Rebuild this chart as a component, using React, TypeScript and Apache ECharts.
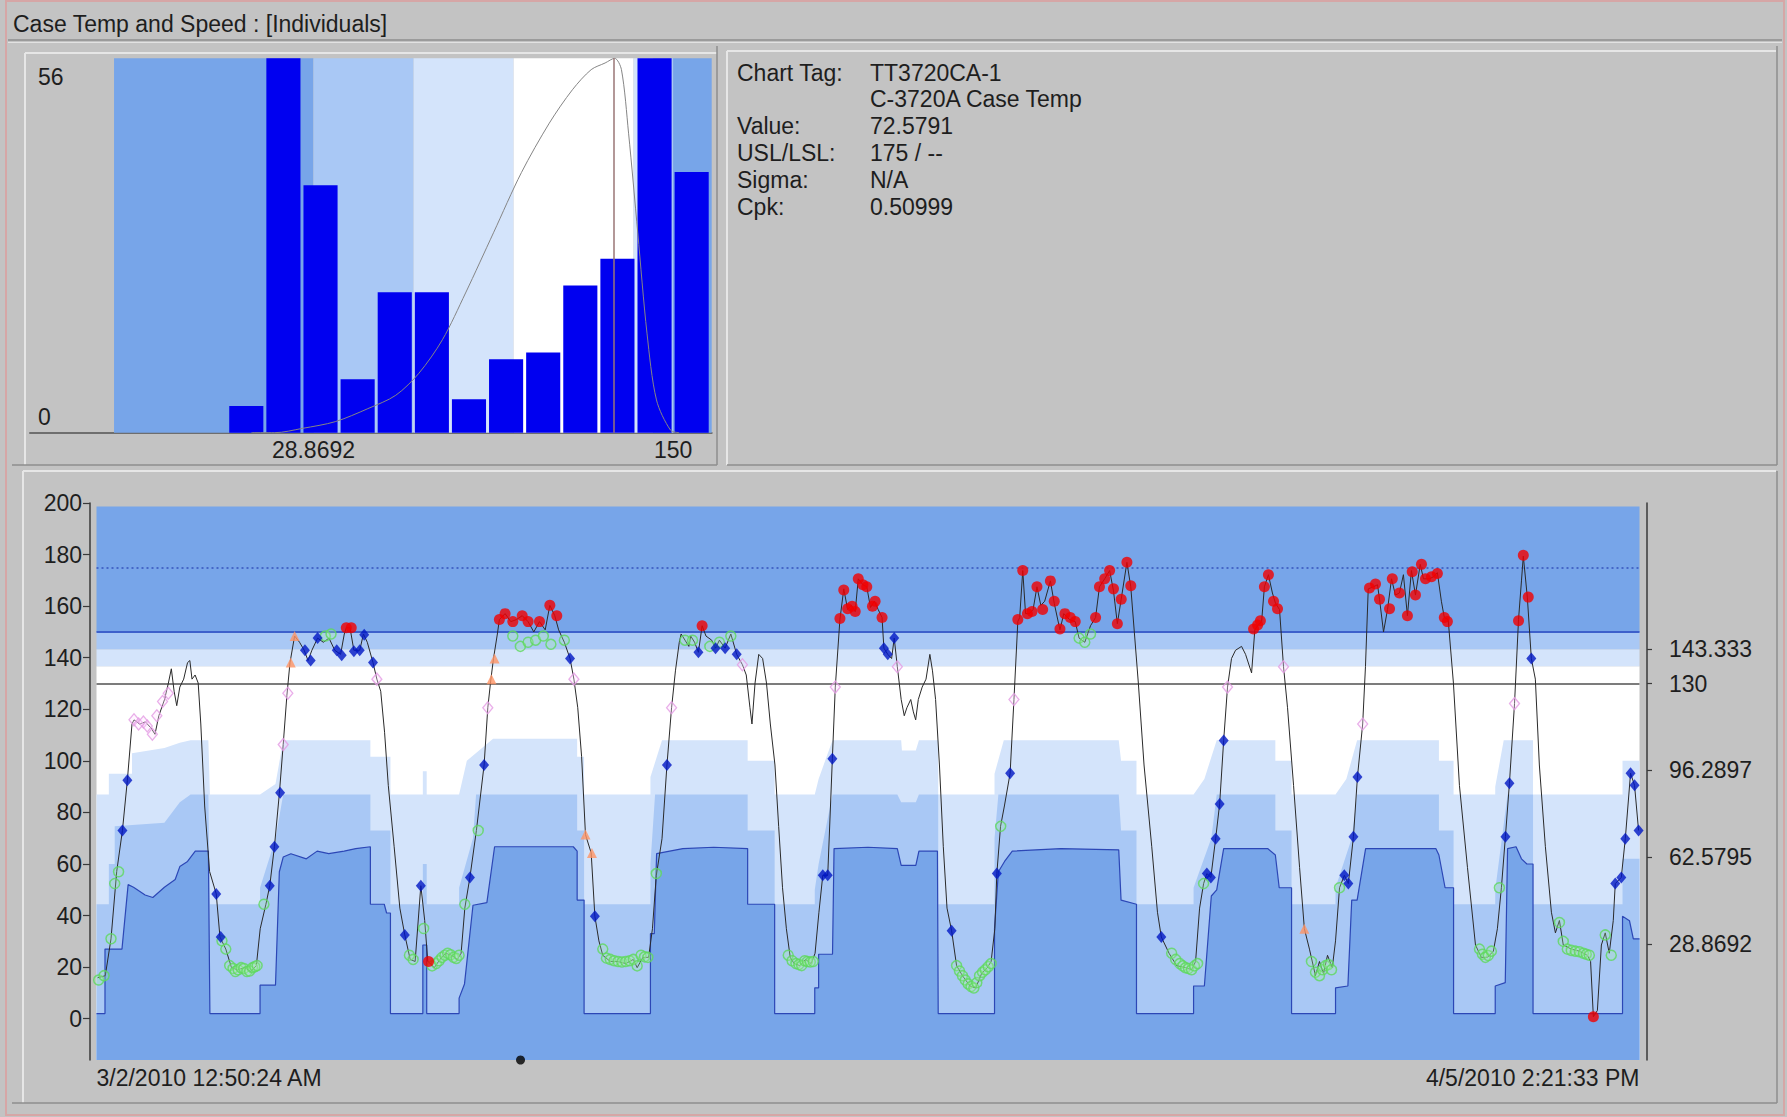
import React, { useEffect, useRef } from 'react';
import * as echarts from 'echarts';

const FONT = '"Liberation Sans", Arial, Helvetica, sans-serif';
const MED = '#77a5e9';
const LIGHT = '#a9c8f5';
const VLIGHT = '#d4e4fb';
const BG = '#c3c3c3';
const TXT = '#1e1e1e';

// ---------- Title / info ----------
const chartTitle = 'Case Temp and Speed : [Individuals]';
const infoLabels = ['Chart Tag:', '', 'Value:', 'USL/LSL:', 'Sigma:', 'Cpk:'];
const infoValues = ['TT3720CA-1', 'C-3720A Case Temp', '72.5791', '175 / --', 'N/A', '0.50999'];

// ---------- Histogram ----------
const histBinStart = 0;
const histBinWidth = 12.5;
const histCounts = [4, 56, 37, 8, 21, 21, 5, 11, 12, 22, 26, 56, 39];
const histYMax = 56;
const histYTicks = [0, 56];
const histXTicks = [28.8692, 150];
const histXTickLabels = ['28.8692', '150'];
const histCenter = 130;
const histCurve: [number, number][] = [
  [8, 0], [15.8, 0], [25.2, 0.65], [36.2, 1.65], [47.2, 3.6], [56.6, 5.6], [64.4, 8.9], [72.3, 13.9],
  [80.1, 20.9], [89.5, 29.9], [98.9, 38.9], [108.3, 46.3], [116.1, 51.3], [122.4, 54.3], [127.1, 55.3],
  [130.3, 56], [132.6, 54.3], [135, 44.8], [138.1, 29.9], [141.2, 14.9], [144.4, 4.9], [149.1, 0.4], [152, 0],
];

// ---------- Zones / limits ----------
const zoneLimits = [28.8692, 62.5795, 96.2897, 130, 136.667, 143.333, 150];
const uslValue = 175;
const upperLimit = 150;
const centerValue = 130;

// ---------- Main chart axes ----------
const yTicks = [0, 20, 40, 60, 80, 100, 120, 140, 160, 180, 200];
const rightTicks = [28.8692, 62.5795, 96.2897, 130, 143.333];
const rightTickLabels = ['28.8692', '62.5795', '96.2897', '130', '143.333'];
const dateLabels = ['3/2/2010 12:50:24 AM', '4/5/2010 2:21:33 PM'];
const cursorPoint: [number, number][] = [[274.8, -16]];

// ---------- Lower variable zones (x: position 0..1000 across the time span) ----------
const zone1: [number, number][] = [
  [0, 2], [5.5, 2], [5.5, 27], [16.5, 27], [20.5, 52], [24, 51], [31.5, 48], [36.5, 47], [44, 51], [51, 54], [54, 59], [59, 61], [64, 65], [72.5, 65], [73.5, 2],
  [106, 2], [106, 13], [116, 13], [118.5, 57], [121, 62.7], [126, 64], [136, 62], [143, 65], [150.5, 64], [160.5, 65], [168, 66], [177.5, 66.7], [177.5, 44.4], [186.5, 44.4], [188, 41], [190.5, 41], [190.5, 2],
  [211.5, 2], [211.5, 28.6], [214, 28.6], [214, 2], [235, 2], [235, 8], [238.5, 13.5], [244, 44], [253, 45], [258, 66.7], [309, 66.7], [311.5, 65], [311.5, 46], [316, 46], [316, 2],
  [359, 2], [359, 33], [361.5, 33], [363, 64], [380, 66], [400, 66.5], [422, 66], [422, 44.4], [439.5, 44.4], [439.5, 2],
  [465.5, 2], [465.5, 12], [468, 12], [468, 25], [477, 25], [478, 66], [500, 66.5], [519, 66], [521.5, 59.5], [531, 59.5], [533, 65], [545, 65], [545.5, 2],
  [582, 2], [582, 35], [584.5, 57], [588.5, 61], [593.5, 65], [625, 66], [662.5, 65.5], [664, 46], [674, 44.4], [674, 2],
  [711, 2], [711, 12.7], [718, 12.7], [722.5, 47.6], [726, 50], [730.5, 66], [759, 66], [764, 63.5], [766.5, 50.8], [774.5, 50.8], [774.5, 2],
  [803, 2], [803, 12], [811, 12.7], [813.5, 46], [817, 46], [822.5, 66], [868, 66], [870, 63.5], [874, 50.8], [879.5, 50.8], [879.5, 2],
  [906.5, 2], [906.5, 12.7], [913, 14], [914.5, 66], [920, 66.7], [923.5, 62], [927, 60], [931, 60], [931, 2],
  [989, 2], [989, 39.7], [993.5, 38], [996, 31], [1000, 31],
];
const zone2: [number, number][] = [
  [0, 44.4], [8, 44.4], [8, 60], [11.8, 60], [11.8, 74.6], [44, 76], [54, 84], [61, 87], [72.5, 87], [73.5, 44.4],
  [106, 44.4], [106, 50.8], [116, 69.8], [121, 87], [177.5, 87], [177.5, 73], [190.5, 73], [190.5, 44.4],
  [211.5, 44.4], [211.5, 60], [214, 60], [214, 44.4], [235, 44.4], [235, 50.8], [244, 70], [246, 87], [311.5, 87], [311.5, 73], [316, 73], [316, 44.4],
  [359, 44.4], [359, 60], [362, 87], [422, 87], [422, 73], [439.5, 73], [439.5, 44.4],
  [465.5, 44.4], [465.5, 50], [468, 60], [477, 87], [519, 87], [521.5, 84], [531, 84], [533, 87], [545.5, 87], [545.5, 44.4],
  [582, 44.4], [582, 70], [584.5, 87], [662.5, 87], [664, 73], [674, 73], [674, 44.4],
  [711, 44.4], [711, 50.8], [722.5, 70], [726, 87], [764, 87], [764, 73], [774.5, 73], [774.5, 44.4],
  [803, 44.4], [803, 50.8], [813.5, 70], [817, 87], [870, 87], [870, 73], [879.5, 73], [879.5, 44.4],
  [906.5, 44.4], [906.5, 50], [914.5, 87], [931, 87], [931, 44.4],
  [989, 44.4], [989, 62], [1000, 62],
];
const zone3: [number, number][] = [
  [0, 87], [8, 87], [8, 95], [23, 95], [23, 103], [44, 105], [54, 107], [61, 108], [72.5, 108], [73.5, 87],
  [106, 87], [116, 91], [121, 108], [177.5, 108], [177.5, 101.6], [190.5, 101.6], [190.5, 87],
  [211.5, 87], [211.5, 96], [214, 96], [214, 87], [235, 87], [240, 100], [257, 108.6], [311.5, 108.6], [311.5, 101.6], [316, 101.6], [316, 87],
  [359, 87], [359, 93.7], [366.5, 108], [422, 108], [422, 100], [439.5, 100], [439.5, 87],
  [465.5, 87], [468, 93], [477, 108], [521.5, 108], [522, 104], [531, 104], [533, 108], [545.5, 108], [545.5, 87],
  [582, 87], [582, 95], [588, 108], [662.5, 108], [664, 100], [674, 100], [674, 87],
  [711, 87], [718, 93], [726, 108], [764, 108], [764, 100], [774.5, 100], [774.5, 87],
  [803, 87], [810, 93], [817, 108], [870, 108], [870, 100], [879.5, 100], [879.5, 87],
  [906.5, 87], [906.5, 90], [912, 108], [931, 108], [931, 87],
  [989, 87], [989, 100], [1000, 100],
];

// ---------- Case temperature trace ----------
const caseTemp: [number, number][] = [
  [0.7, 15.9], [5.7, 16.7], [9.4, 31], [13.1, 57.1], [16.8, 73], [20, 92.5], [23, 114.3], [24.3, 115.9], [27.9, 114.3], [31.7, 115.1], [35.4, 112.7], [37.9, 110.3], [40.4, 117.5], [44.1, 123.8], [46.6, 130.2], [48.5, 135.7], [50.3, 127], [52, 121.4], [54, 128.6], [56.5, 131.7], [59, 138.1], [60.5, 138.9], [61.9, 131.7], [63.9, 133.3], [65.9, 130.2], [67.6, 114.3], [70.1, 82.5], [73.3, 57.1], [77.6, 48.4], [80, 31.7], [83.8, 27], [87.5, 19.8], [91.2, 19], [96.2, 19.8], [99.9, 18.3], [103.6, 20.6], [106.1, 34.9], [109.8, 44.4], [112.3, 51.6], [115.3, 66.7], [118.5, 87.3], [121, 106.3], [123.4, 125.4], [125.4, 138.1], [128.4, 148.4], [131.6, 146], [134.6, 142.9], [137.1, 138.9], [139.6, 142.9], [143.3, 147.6], [147, 146], [150.7, 147.6], [154.4, 142.9], [158.2, 141.3], [160.6, 149.2], [161.9, 151.6], [164.3, 151.6], [166.8, 142.9], [170.6, 142.9], [173, 149.2], [175.5, 146], [179.2, 138.1], [181.7, 131.7], [184.2, 127], [186.7, 111.1], [189.1, 90.5], [192.9, 66.7], [196.6, 42.9], [199.8, 32.5], [203.3, 23], [206.5, 22.2], [210.2, 51.6], [212.7, 38.1], [214.7, 22.2], [216.4, 21.4], [218.9, 19.8], [222.6, 23], [226.3, 25.4], [230.1, 24.6], [233.8, 23], [236.3, 25.4], [238.7, 42.9], [242, 54.8], [246.2, 73], [251.2, 98.4], [253.6, 120.6], [255.6, 131.7], [257.3, 139.7], [259.8, 149.2], [261.1, 154.8], [264.8, 157.1], [268.5, 154], [272.2, 154.8], [275.9, 156.3], [279.7, 154], [283.4, 150], [287.1, 154], [290.8, 150.8], [293.8, 160.3], [297, 156.3], [299.5, 150.8], [303.2, 146], [306.9, 139.7], [309.4, 131.7], [311.9, 120.6], [314.4, 101.6], [316.9, 71.4], [320.6, 64.3], [323, 39.7],
  [325.6, 30.2], [328.1, 24.6], [333, 22.2], [338, 22.2], [343, 21.4], [347.9, 23], [350.4, 19.8], [354.1, 23.8], [357.8, 23.8], [360.3, 34.9], [362.8, 55.6], [366.5, 69.8], [369.7, 98.4], [372.7, 120.6], [375.2, 134.9], [377.7, 146], [378.9, 149.2], [381.4, 146.8], [383.9, 144.4], [385.1, 148.4], [387.6, 146], [390.1, 142.1], [392.5, 152.4], [395, 148.4], [398.7, 146.8], [401.2, 143.7], [403.7, 146.8], [407.4, 143.7], [411.1, 149.2], [414.9, 141.3], [418.6, 137.3], [421.1, 133.3], [423.5, 120.6], [424.8, 114.3], [426.8, 130.2], [429.2, 141.3], [431.7, 139.7], [434.2, 130.2], [436.7, 114.3], [439.7, 98.4], [442.1, 74.6], [444.6, 50.8], [447.1, 34.9], [449.6, 23.8], [452.1, 21.4], [455.8, 20.6], [459.5, 23], [463.2, 21.4], [465.7, 25.4], [468.2, 41.3], [470.7, 55.6], [473.9, 55.6], [476.9, 100.8], [478.8, 128.6], [481.8, 154.8], [484.3, 166.7], [486.8, 158.7], [489.2, 160.3], [491.7, 157.9], [493.7, 170.6], [496.7, 168.3], [499.2, 167.5], [501.6, 159.5], [504.1, 161.9], [506.6, 158.7], [509.1, 155.6], [510.3, 143.7], [512.8, 141.3], [515.3, 139.7], [517, 147.6], [519, 136.5], [521.5, 123.8], [523.5, 117.5], [525.2, 120.6], [527.7, 123.8], [529.4, 119], [530.9, 115.9], [532.6, 123.8], [535.1, 128.6], [537.6, 131.7], [540.1, 141.3], [541.8, 134.9], [543.8, 123.8], [546.3, 98.4], [548.8, 66.7], [551.2, 42.9], [554.2, 34.1], [557.4, 20.6], [561.2, 16.7], [566.1, 12.7], [569.8, 11.9], [573.6, 17.5], [577.3, 19.8], [579.8, 22.2], [582.2, 34.9], [583.5, 56.3], [585.9, 74.6], [588.4, 82.5], [592.1, 95.2], [594.6, 123.8], [597.1, 154], [598.3, 155.6], [600.3, 173.8], [602.1, 157.1], [604.6, 157.1], [607, 158.7], [609.5, 167.5], [612, 160.3], [614.5, 161.9], [618.2, 169.8], [620.7, 161.1], [624.4, 150.8], [626.9, 157.1], [630.6, 154.8], [634.3, 154], [636.8, 147.6], [640.5, 146], [644.2, 152.4], [647.5, 155.6], [650, 167.5], [653.4, 170.6], [656.6, 173.8], [659.1, 165.9], [661.6, 153.2], [664.1, 162.7], [667.8, 177], [670.3, 167.5], [672.7, 149.2], [675.2, 130.2], [678.9, 98.4], [683.9, 66.7], [687.6, 41.3], [690.1, 31.7], [695.1, 25.4], [700, 20.6],
  [705.8, 19.8], [709.7, 19], [712.3, 22.2], [714.9, 42.9], [717.5, 52.4], [719.6, 56.3], [722.2, 54.8], [725.3, 69.8], [727.9, 83.3], [730.5, 107.9], [733, 128.6], [735.6, 139.7], [738.2, 142.9], [742.1, 144.4], [744.7, 141.3], [748.6, 134.1], [750.7, 150.8], [752.5, 152.4], [755.1, 154], [756.9, 167.5], [759.5, 172.2], [762.1, 165.1], [764.1, 161.1], [766.7, 158.7], [769.3, 136.5], [771.9, 120.6], [775.8, 90.5], [779.7, 58.7], [782.8, 34.9], [786.1, 27], [790, 16.7], [792.6, 22.2], [795.2, 17.5], [797.8, 24.6], [800.9, 19.8], [803, 30.2], [805.6, 50.8], [808.7, 55.6], [811.3, 52.4], [814.6, 70.6], [817.2, 93.7], [820.6, 114.3], [822.4, 136.5], [824.2, 166.7], [827.6, 167.5], [830.2, 168.3], [831.5, 162.7], [834.1, 150], [836.7, 158.7], [839.3, 170.6], [841.8, 164.3], [844.4, 165.1], [847, 172.2], [849.6, 156.3], [852.2, 173.8], [854.8, 164.3], [857.9, 176.2], [860, 170.6], [863.9, 170.6], [866.5, 171.4], [869, 173], [871.6, 161.9], [873.5, 155.6], [876, 154.8], [879.4, 130.2], [883.3, 90.5], [888.5, 58.7], [893.7, 28.6], [897.5, 23.8], [901.4, 23.8], [905.3, 26.2], [907.9, 34.9], [910.5, 50.8], [913.1, 70.6], [915.7, 91.3], [919, 122.2], [921.6, 154.8], [923.5, 169.8], [924.7, 179.4], [927.3, 163.5], [929.9, 139.7], [932.5, 131.7], [935.1, 98.4], [939, 66.7], [942.9, 41.3], [945.5, 33.3], [948.1, 38.1], [950.6, 28.6], [955.8, 27], [961, 26.2], [966.2, 24.6], [968.3, 22.2], [970.1, 0.8], [972.7, 3.2], [975.3, 28.6], [977.8, 33.3], [980.4, 25.4], [983, 38.1], [984.3, 52.4], [988.2, 54.8], [990.8, 69.8], [994.2, 95.2], [996.8, 90.5], [999.4, 73],
];

// ---------- Rule markers ----------
const redPoints: [number, number][] = [
  [161.9, 151.6], [165.1, 151.6], [215.2, 22.2], [261.1, 154.8], [264.8, 157.1], [269.8, 154], [275.9, 156.3], [279.7, 154], [287.1, 154], [293.8, 160.3], [298.3, 156.3], [392.5, 152.4],
  [481.8, 155.2], [484.3, 166.3], [486.8, 159], [489.7, 160], [491.7, 157.9], [493.7, 170.6], [496.7, 168.3], [499.2, 167.5], [502.9, 160], [504.6, 161.9], [509.1, 155.6],
  [597.1, 154.8], [600.3, 173.8], [603.3, 157.1], [606.3, 157.9], [609.5, 167.5], [613.2, 158.7], [618.2, 169.8], [620.7, 161.9], [624.4, 151.1], [627.6, 157.1], [631.1, 155.6], [634.3, 154],
  [647.5, 155.6], [650, 167.5], [653.4, 170.6], [656.6, 173.8], [659.1, 166.7], [661.6, 153.2], [664.1, 162.7], [667.8, 177], [670.3, 167.9],
  [749.9, 151.1], [752.5, 152.7], [754.3, 154.3], [756.9, 167.5], [759.5, 172.2], [762.8, 161.9], [765.4, 159],
  [825, 167], [828.9, 168.6], [831.5, 162.7], [838, 159], [839.8, 170.6], [844.4, 165.1], [849.6, 156.3], [852.7, 173.3], [854.8, 164.3], [858.7, 176.2], [861.3, 170.6], [865.2, 171.4], [869, 172.7], [873.5, 155.6], [875.5, 154],
  [921.6, 154.3], [924.7, 179.7], [927.9, 163.5], [970.1, 0.8],
];
const bluePoints: [number, number][] = [
  [16.8, 73], [20, 92.5], [77.6, 48.4], [80.5, 31.7], [112.3, 51.6], [115.3, 66.7], [119, 87.6], [135.1, 142.9], [138.8, 138.9], [143.3, 147.6], [155.7, 142.9], [158.9, 141], [166.8, 142.5], [170.6, 142.9], [173.5, 148.9], [179.2, 138.1],
  [199.8, 32.5], [210.2, 51.6], [242, 54.8], [251.2, 98.4], [306.9, 139.7], [323, 39.7], [369.7, 98.4], [390.1, 142.1], [401.2, 143.7], [407.4, 143.7], [414.9, 141.3],
  [470.7, 55.6], [473.9, 55.6], [476.9, 100.8], [510.3, 143.7], [512.8, 141.3], [517, 147.6], [554.2, 34.1], [583.5, 56.3], [592.1, 95.2], [690.1, 31.7],
  [719.6, 56.3], [722.2, 54.8], [725.3, 69.8], [727.9, 83.3], [730.5, 107.9], [808.7, 55.6], [811.3, 52.4], [814.6, 70.6], [817.2, 93.7], [913.1, 70.6], [915.7, 91.3], [929.9, 139.7],
  [984.3, 52.4], [988.2, 54.8], [990.8, 69.8], [994.2, 95.2], [996.8, 90.5], [999.4, 73],
];
const greenPoints: [number, number][] = [
  [1.4, 15], [4.9, 16.7], [9.4, 31], [11.8, 52.4], [14.3, 57], [81.3, 30.2], [83.8, 27], [86.3, 20.6], [88.5, 19.5], [90, 18.3], [91.8, 19], [93.7, 19.8], [95.5, 19.5], [97.4, 18.3], [99.2, 18.5], [101.1, 19.8], [102.6, 20.2], [104.1, 20.6], [108.5, 44.4], [148.3, 148.4], [152, 149.2],
  [202.8, 24.6], [205.2, 23], [212, 35], [217.5, 20.5], [220.2, 21.4], [222, 22.5], [223.9, 23.8], [225.8, 24.6], [227.6, 25.4], [229.5, 24.8], [231.3, 23.8], [233.2, 23.4], [235, 24.6], [238.7, 44.4], [247.4, 73],
  [269.8, 148.4], [274.7, 144.4], [279.7, 146], [284.6, 146.8], [289.6, 148.4], [294.5, 145.2], [303.2, 146.8],
  [328.1, 27], [330.5, 23.5], [333, 23], [335.5, 22.5], [338, 22.2], [340.5, 22], [343, 22.2], [345.5, 22.5], [347.9, 23], [350.4, 20.5], [352.9, 24.6], [355.2, 24], [357.3, 23.8], [362.8, 56.3],
  [381.4, 146.8], [386.3, 146.8], [397.5, 144.4], [403.7, 146], [411.1, 148.4],
  [448.3, 24.6], [450.8, 22.5], [453.3, 21.4], [455.2, 21], [457, 20.6], [459, 22.5], [460.7, 22.2], [462.6, 22], [464.5, 22.2],
  [557.4, 20.6], [559.3, 18.5], [561.2, 16.7], [563, 15], [564.9, 13.5], [566.8, 12.5], [568.6, 11.9], [570.5, 14], [572.3, 16.7], [574.2, 18], [576, 19], [577.9, 20.2], [579.8, 21.4], [586, 74.6],
  [636.8, 147.6], [640.5, 146], [644.2, 149.2],
  [696.8, 25.4], [699.4, 23], [702, 21.4], [704, 20.5], [705.8, 19.8], [707.7, 19.5], [709.7, 19], [711.6, 20.5], [713.6, 21.4], [717.5, 52.4],
  [787.4, 22.2], [790, 18], [792.6, 16.7], [794.6, 19], [796.5, 20.6], [798.4, 21], [800.4, 19], [805.6, 50.8],
  [896.3, 27], [898.2, 25], [900.1, 23.8], [902, 24.5], [904, 26.2], [909.2, 50.8],
  [948.1, 37.3], [950.6, 30], [953.2, 27], [955.8, 26.5], [958.4, 26.2], [961, 26], [963.6, 25.4], [965.5, 25], [967.5, 24.6], [977.8, 32.5], [981.7, 24.6],
];
const orangePoints: [number, number][] = [
  [125.9, 138.1], [128.4, 148.4], [256, 131.7], [258, 139.7], [316.9, 71.4], [321.1, 64.3], [782.8, 34.9],
];
const pinkPoints: [number, number][] = [
  [24.3, 115.9], [27.3, 114.3], [30.4, 115.1], [32.9, 113.5], [36.2, 110.3], [39.1, 117.5], [42.8, 123], [46.5, 126.2],
  [121, 106.3], [124, 126.2], [181.7, 131.7], [253.6, 120.6], [309.4, 131.7], [372.7, 120.6], [418.6, 137.3], [478.8, 128.6],
  [519, 136.5], [594.6, 123.8], [733, 128.6], [769.3, 136.5], [820.6, 114.3], [919, 122.2],
];

function pickLabel(values: number[], labels: string[], v: number): string {
  for (let i = 0; i < values.length; i++) {
    if (Math.abs(values[i] - v) < 1e-3) return labels[i];
  }
  return '';
}

function buildOption(): any {
  const histBars = histCounts.map((c, i) => [
    histBinStart + i * histBinWidth,
    histBinStart + (i + 1) * histBinWidth,
    c,
  ]);

  const panelLines: any[] = [];
  const addLine = (x1: number, y1: number, x2: number, y2: number, stroke: string, w: number) =>
    panelLines.push({ type: 'line', silent: true, shape: { x1, y1, x2, y2 }, style: { stroke, lineWidth: w } });
  // outer frame
  panelLines.push({ type: 'rect', silent: true, shape: { x: 6, y: 1, width: 1778, height: 1114 }, style: { fill: 'none', stroke: '#d6a6a6', lineWidth: 2 } });
  // title separator
  addLine(8, 40, 1782, 40, '#8e8e8e', 1.5);
  addLine(8, 42.5, 1782, 42.5, '#e2e2e2', 1);
  // histogram panel
  addLine(25, 53, 717, 53, '#e6e6e6', 2);
  addLine(25, 53, 25, 465, '#e6e6e6', 2);
  addLine(12, 465, 717, 465, '#8e8e8e', 1.5);
  addLine(717, 46, 717, 465, '#8e8e8e', 1.5);
  // info panel
  addLine(727, 51, 1776, 51, '#e6e6e6', 2);
  addLine(727, 51, 727, 465, '#e6e6e6', 2);
  addLine(727, 465, 1777, 465, '#8e8e8e', 1.5);
  addLine(1777, 46, 1777, 465, '#8e8e8e', 1.5);
  // bottom panel
  addLine(23, 471, 1776, 471, '#e6e6e6', 2);
  addLine(23, 471, 23, 1103, '#e6e6e6', 2);
  addLine(12, 1103, 1777, 1103, '#8e8e8e', 1.5);
  addLine(1777, 471, 1777, 1103, '#8e8e8e', 1.5);

  const texts: any[] = [
    { type: 'text', silent: true, x: 13, y: 24, style: { text: chartTitle, fontSize: 23, fontFamily: FONT, fill: TXT, verticalAlign: 'middle' } },
  ];
  const rowY = [72.8, 99.2, 125.8, 153.3, 180, 206.7];
  infoLabels.forEach((t, i) => {
    if (t) texts.push({ type: 'text', silent: true, x: 737, y: rowY[i], style: { text: t, fontSize: 23, fontFamily: FONT, fill: TXT, verticalAlign: 'middle' } });
  });
  infoValues.forEach((t, i) => {
    texts.push({ type: 'text', silent: true, x: 870, y: rowY[i], style: { text: t, fontSize: 23, fontFamily: FONT, fill: TXT, verticalAlign: 'middle' } });
  });

  const lbl = { fontSize: 23, fontFamily: FONT, color: TXT };

  return {
    animation: false,
    backgroundColor: BG,
    textStyle: { fontFamily: FONT },
    graphic: [...panelLines, ...texts],
    grid: [
      { left: 30, top: 58.3, width: 681.7, height: 374.4, outerBoundsMode: 'none', containLabel: false },
      { left: 96.5, top: 503, width: 1543, height: 557, outerBoundsMode: 'none', containLabel: false },
    ],
    xAxis: [
      {
        type: 'value', gridIndex: 0, min: -66.6, max: 163,
        axisLine: { show: true, onZero: false, lineStyle: { color: '#6e6e6e', width: 2 } },
        axisTick: { show: false },
        splitLine: { show: false },
        axisLabel: { ...lbl, customValues: histXTicks, margin: 6, formatter: (v: number) => pickLabel(histXTicks, histXTickLabels, v) },
      },
      {
        type: 'value', gridIndex: 1, min: 0, max: 1000,
        axisLine: { show: false },
        axisTick: { show: false },
        splitLine: { show: false },
        axisLabel: {
          ...lbl, customValues: [0, 1000], margin: 6,
          alignMinLabel: 'left', alignMaxLabel: 'right',
          formatter: (v: number) => (v < 500 ? dateLabels[0] : dateLabels[1]),
        },
      },
    ],
    yAxis: [
      {
        type: 'value', gridIndex: 0, min: 0, max: histYMax,
        axisLine: { show: false }, axisTick: { show: false }, splitLine: { show: false },
        axisLabel: {
          ...lbl, customValues: histYTicks, inside: true, margin: 8,
          verticalAlignMinLabel: 'bottom', verticalAlignMaxLabel: 'top',
          padding: [7, 0, 4, 0],
        },
      },
      {
        type: 'value', gridIndex: 1, min: -16, max: 200, position: 'left', offset: 6.5,
        axisLine: { show: true, onZero: false, lineStyle: { color: '#3a3a3a', width: 1.5 } },
        axisTick: { show: true, length: 7, customValues: yTicks, lineStyle: { color: '#3a3a3a', width: 1.2 } },
        splitLine: { show: false },
        axisLabel: { ...lbl, customValues: yTicks, margin: 8 },
      },
      {
        type: 'value', gridIndex: 1, min: -16, max: 200, position: 'right', offset: 7.5,
        axisLine: { show: true, onZero: false, lineStyle: { color: '#3a3a3a', width: 1.5 } },
        axisTick: { show: true, length: 5, customValues: rightTicks, lineStyle: { color: '#3a3a3a', width: 1.2 } },
        splitLine: { show: false },
        axisLabel: { ...lbl, customValues: rightTicks, margin: 22, formatter: (v: number) => pickLabel(rightTicks, rightTickLabels, v) },
      },
    ],
    series: [
      // ----- histogram -----
      {
        type: 'line', xAxisIndex: 0, yAxisIndex: 0, data: [], silent: true, z: 1,
        markArea: {
          silent: true,
          itemStyle: { borderWidth: 0 },
          data: [
            [{ xAxis: -38.3, itemStyle: { color: MED } }, { xAxis: zoneLimits[0] }],
            [{ xAxis: zoneLimits[0], itemStyle: { color: LIGHT } }, { xAxis: zoneLimits[1] }],
            [{ xAxis: zoneLimits[1], itemStyle: { color: VLIGHT } }, { xAxis: zoneLimits[2] }],
            [{ xAxis: zoneLimits[2], itemStyle: { color: '#ffffff' } }, { xAxis: zoneLimits[4] }],
            [{ xAxis: zoneLimits[4], itemStyle: { color: VLIGHT } }, { xAxis: zoneLimits[5] }],
            [{ xAxis: zoneLimits[5], itemStyle: { color: LIGHT } }, { xAxis: zoneLimits[6] }],
            [{ xAxis: zoneLimits[6], itemStyle: { color: MED } }, { xAxis: 163 }],
          ],
        },
      },
      {
        type: 'custom', xAxisIndex: 0, yAxisIndex: 0, z: 3, silent: true,
        encode: { x: [0, 1], y: 2 },
        data: histBars,
        renderItem: (_p: any, api: any) => {
          const a = api.coord([api.value(0), api.value(2)]);
          const b = api.coord([api.value(1), 0]);
          return {
            type: 'rect',
            shape: { x: a[0] + 1.5, y: a[1], width: b[0] - a[0] - 3, height: b[1] - a[1] },
            style: { fill: '#0000f0' },
          };
        },
      },
      {
        type: 'line', xAxisIndex: 0, yAxisIndex: 0, data: histCurve, z: 4, silent: true,
        symbol: 'none', smooth: 0.3,
        lineStyle: { color: '#858585', width: 1 },
        markLine: {
          silent: true, symbol: ['none', 'none'], label: { show: false },
          lineStyle: { color: '#9a7676', width: 1.5, type: 'solid' },
          data: [{ xAxis: histCenter }],
        },
      },
      // ----- main chart zones -----
      {
        type: 'line', xAxisIndex: 1, yAxisIndex: 1, data: [], silent: true, z: 1,
        markArea: {
          silent: true,
          itemStyle: { borderWidth: 0 },
          data: [
            [{ yAxis: -16, itemStyle: { color: '#ffffff' } }, { yAxis: zoneLimits[4] }],
            [{ yAxis: zoneLimits[4], itemStyle: { color: VLIGHT } }, { yAxis: zoneLimits[5] }],
            [{ yAxis: zoneLimits[5], itemStyle: { color: LIGHT } }, { yAxis: zoneLimits[6] }],
            [{ yAxis: zoneLimits[6], itemStyle: { color: MED } }, { yAxis: 198.6 }],
          ],
        },
      },
      {
        type: 'line', xAxisIndex: 1, yAxisIndex: 1, data: zone3, z: 2, silent: true, symbol: 'none',
        lineStyle: { width: 0 }, areaStyle: { color: VLIGHT, opacity: 1, origin: 'start' },
      },
      {
        type: 'line', xAxisIndex: 1, yAxisIndex: 1, data: zone2, z: 3, silent: true, symbol: 'none',
        lineStyle: { width: 0 }, areaStyle: { color: LIGHT, opacity: 1, origin: 'start' },
      },
      {
        type: 'line', xAxisIndex: 1, yAxisIndex: 1, data: zone1, z: 4, silent: true, symbol: 'none',
        lineStyle: { width: 1.2, color: '#2c47b6' }, areaStyle: { color: MED, opacity: 1, origin: 'start' },
      },
      {
        type: 'line', xAxisIndex: 1, yAxisIndex: 1, data: [], silent: true, z: 5,
        markLine: {
          silent: true, symbol: ['none', 'none'], label: { show: false },
          data: [
            { yAxis: uslValue, lineStyle: { color: '#3552bd', width: 1.5, type: [2, 3] } },
            { yAxis: upperLimit, lineStyle: { color: '#3d60cb', width: 2, type: 'solid' } },
            { yAxis: centerValue, lineStyle: { color: '#7c7c7c', width: 2, type: 'solid' } },
          ],
        },
      },
      {
        type: 'line', xAxisIndex: 1, yAxisIndex: 1, data: caseTemp, z: 6, silent: true, symbol: 'none',
        lineStyle: { color: '#2a2a2a', width: 1 },
      },
      {
        type: 'scatter', xAxisIndex: 1, yAxisIndex: 1, data: greenPoints, z: 7, silent: true,
        symbol: 'circle', symbolSize: 10,
        itemStyle: { color: 'rgba(170,240,170,0.35)', borderColor: '#5ed85e', borderWidth: 1.5 },
      },
      {
        type: 'scatter', xAxisIndex: 1, yAxisIndex: 1, data: pinkPoints, z: 8, silent: true,
        symbol: 'diamond', symbolSize: [10, 12],
        itemStyle: { color: 'rgba(255,225,255,0.4)', borderColor: '#e49be4', borderWidth: 1.3 },
      },
      {
        type: 'scatter', xAxisIndex: 1, yAxisIndex: 1, data: orangePoints, z: 9, silent: true,
        symbol: 'triangle', symbolSize: 10,
        itemStyle: { color: '#ff9464' },
      },
      {
        type: 'scatter', xAxisIndex: 1, yAxisIndex: 1, data: bluePoints, z: 10, silent: true,
        symbol: 'diamond', symbolSize: [10, 12],
        itemStyle: { color: '#0016c4' },
      },
      {
        type: 'scatter', xAxisIndex: 1, yAxisIndex: 1, data: redPoints, z: 11, silent: true,
        symbol: 'circle', symbolSize: 11,
        itemStyle: { color: '#f20000' },
      },
      {
        type: 'scatter', xAxisIndex: 1, yAxisIndex: 1, data: cursorPoint, z: 12, silent: true, clip: false,
        symbol: 'circle', symbolSize: 9,
        itemStyle: { color: '#000000' },
      },
    ],
  };
}

export default function App() {
  const ref = useRef<HTMLDivElement>(null);
  useEffect(() => {
    if (!ref.current) return;
    const chart = echarts.init(ref.current, undefined, { renderer: 'svg', width: 1787, height: 1117 });
    chart.setOption(buildOption());
    return () => chart.dispose();
  }, []);
  return (
    <div
      ref={ref}
      style={{ position: 'fixed', left: 0, top: 0, width: 1787, height: 1117, background: BG }}
    />
  );
}
